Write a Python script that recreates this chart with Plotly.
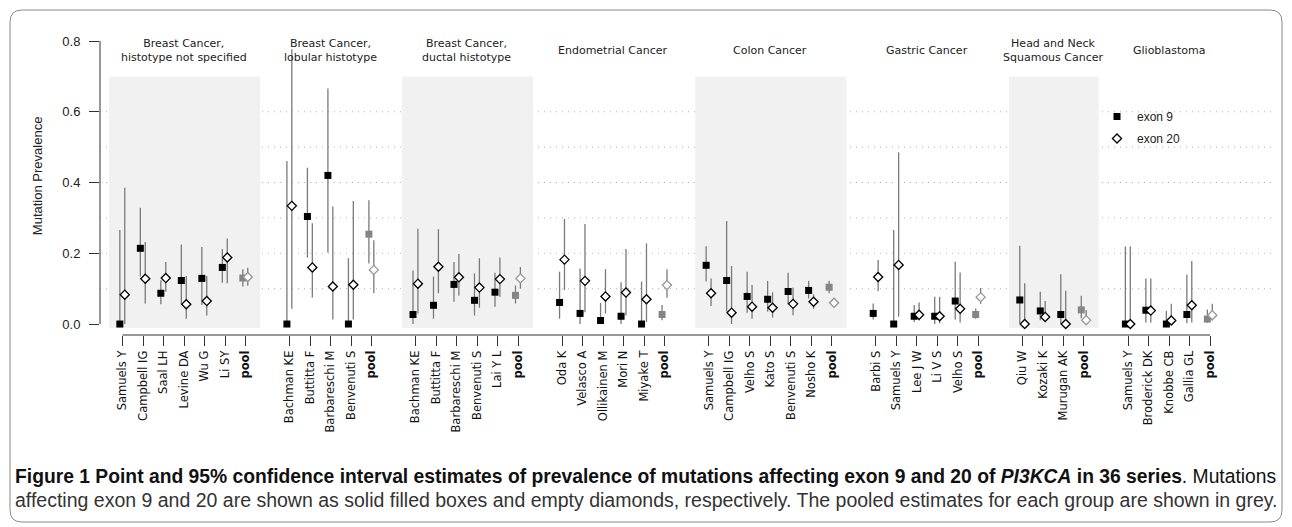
import plotly.graph_objects as go

# ---------------- data ----------------
group_titles = ["Breast Cancer,<br>histotype not specified", "Breast Cancer,<br>lobular histotype",
                "Breast Cancer,<br>ductal histotype", "Endometrial Cancer", "Colon Cancer",
                "Gastric Cancer", "Head and Neck<br>Squamous Cancer", "Glioblastoma"]
group_sizes = [7, 5, 6, 6, 7, 6, 4, 5]
shaded_groups = [0, 2, 4, 6]

labels = ["Samuels Y", "Campbell IG", "Saal LH", "Levine DA", "Wu G", "Li SY", "pool",
          "Bachman KE", "Buttitta F", "Barbareschi M", "Benvenuti S", "pool",
          "Bachman KE", "Buttitta F", "Barbareschi M", "Benvenuti S", "Lai Y L", "pool",
          "Oda K", "Velasco A", "Ollikainen M", "Mori N", "Miyake T", "pool",
          "Samuels Y", "Campbell IG", "Velho S", "Kato S", "Benvenuti S", "Nosho K", "pool",
          "Barbi S", "Samuels Y", "Lee J W", "Li V S", "Velho S", "pool",
          "Qiu W", "Kozaki K", "Murugan AK", "pool",
          "Samuels Y", "Broderick DK", "Knobbe CB", "Gallia GL", "pool"]

e9 = [0.0, 0.214, 0.087, 0.123, 0.129, 0.160, 0.130,
      0.0, 0.304, 0.420, 0.0, 0.254,
      0.027, 0.053, 0.112, 0.067, 0.090, 0.081,
      0.061, 0.030, 0.010, 0.022, 0.0, 0.027,
      0.166, 0.123, 0.078, 0.070, 0.092, 0.095, 0.104,
      0.030, 0.0, 0.022, 0.022, 0.065, 0.027,
      0.068, 0.037, 0.027, 0.040,
      0.0, 0.039, 0.0, 0.027, 0.014]
e9_lo = [0.0, 0.134, 0.056, 0.056, 0.054, 0.117, 0.106,
         0.0, 0.188, 0.202, 0.0, 0.171,
         0.0, 0.015, 0.063, 0.024, 0.049, 0.058,
         0.015, 0.0, 0.0, 0.0, 0.0, 0.011,
         0.120, 0.035, 0.032, 0.035, 0.056, 0.072, 0.087,
         0.013, 0.0, 0.006, 0.0, 0.013, 0.015,
         0.002, 0.011, 0.0, 0.016,
         0.0, 0.004, 0.0, 0.002, 0.004]
e9_hi = [0.266, 0.329, 0.124, 0.225, 0.218, 0.212, 0.155,
         0.461, 0.442, 0.666, 0.186, 0.350,
         0.151, 0.134, 0.175, 0.143, 0.145, 0.109,
         0.148, 0.157, 0.060, 0.118, 0.120, 0.054,
         0.220, 0.291, 0.148, 0.122, 0.145, 0.122, 0.122,
         0.058, 0.266, 0.054, 0.077, 0.176, 0.044,
         0.221, 0.091, 0.141, 0.080,
         0.219, 0.129, 0.037, 0.139, 0.041]

e20 = [0.083, 0.128, 0.130, 0.056, 0.065, 0.188, 0.133,
       0.334, 0.160, 0.106, 0.111, 0.153,
       0.114, 0.162, 0.132, 0.103, 0.127, 0.129,
       0.182, 0.122, 0.078, 0.089, 0.070, 0.110,
       0.087, 0.032, 0.049, 0.046, 0.057, 0.063, 0.060,
       0.133, 0.167, 0.026, 0.022, 0.043, 0.076,
       0.0, 0.020, 0.0, 0.011,
       0.0, 0.038, 0.010, 0.053, 0.025]
e20_lo = [0.0, 0.058, 0.091, 0.015, 0.024, 0.115, 0.108,
          0.043, 0.075, 0.013, 0.013, 0.087,
          0.030, 0.087, 0.080, 0.046, 0.077, 0.100,
          0.096, 0.033, 0.030, 0.024, 0.006, 0.074,
          0.051, 0.0, 0.015, 0.018, 0.025, 0.043, 0.049,
          0.093, 0.021, 0.010, 0.002, 0.004, 0.057,
          0.0, 0.010, 0.0, 0.003,
          0.0, 0.004, 0.002, 0.004, 0.010]
e20_hi = [0.385, 0.232, 0.175, 0.136, 0.136, 0.242, 0.159,
          0.777, 0.285, 0.332, 0.348, 0.237,
          0.269, 0.268, 0.198, 0.186, 0.188, 0.161,
          0.297, 0.283, 0.155, 0.212, 0.228, 0.155,
          0.129, 0.164, 0.110, 0.090, 0.103, 0.084, 0.073,
          0.181, 0.485, 0.061, 0.077, 0.146, 0.102,
          0.115, 0.065, 0.094, 0.040,
          0.219, 0.129, 0.057, 0.178, 0.057]

y_tick_vals = [0.0, 0.2, 0.4, 0.6, 0.8]
y_tick_text = ["0.0", "0.2", "0.4", "0.6", "0.8"]
grid_vals = [0.1, 0.2, 0.3, 0.4, 0.5, 0.6]

caption1 = ("<b>Figure 1 Point and 95% confidence interval estimates of prevalence of mutations "
            "affecting exon 9 and 20 of <i>PI3KCA</i> in 36 series</b>. Mutations")
caption2 = ("affecting exon 9 and 20 are shown as solid filled boxes and empty diamonds, respectively. "
            "The pooled estimates for each group are shown in grey.")

# ---------------- layout helpers ----------------
PAGE = 8                      # default body margin of the html page
W, H = 1292 - PAGE, 527 - PAGE
ML, MR, MT, MB = 92, 20, 33, 192
PW, PH = W - ML - MR, H - MT - MB
GAP = 2.15
OFF9, OFF20 = -0.13, 0.11


def px2x(px):                 # window pixel -> paper x
    return (px - PAGE - ML) / PW


def py2y(py):                 # window pixel -> paper y
    return (H - MB - (py - PAGE)) / PH


pos, group_idx, start = [], [], 0.0
for g, n in enumerate(group_sizes):
    for k in range(n):
        pos.append(start + k)
        group_idx.append(g)
    start = start + n - 1 + GAP

is_pool = [lab == "pool" for lab in labels]
ticktext = ["<b>pool</b>" if p else lab for lab, p in zip(labels, is_pool)]


def subset(vals, pool):
    return [v for v, p in zip(vals, is_pool) if p == pool]


fig = go.Figure()

ERR = "#7a7a7a"
for pool in (False, True):
    xs9 = [x + OFF9 for x, p in zip(pos, is_pool) if p == pool]
    xs20 = [x + OFF20 for x, p in zip(pos, is_pool) if p == pool]
    v9, l9, h9 = subset(e9, pool), subset(e9_lo, pool), subset(e9_hi, pool)
    v20, l20, h20 = subset(e20, pool), subset(e20_lo, pool), subset(e20_hi, pool)
    fig.add_trace(go.Scatter(
        x=xs9, y=v9, mode="markers", name="exon 9", showlegend=not pool, legendgroup="e9",
        marker=dict(symbol="square", size=7, color="#858585" if pool else "black",
                    line=dict(width=0)),
        error_y=dict(type="data", symmetric=False,
                     array=[h - v for h, v in zip(h9, v9)],
                     arrayminus=[v - l for v, l in zip(v9, l9)],
                     color=ERR, thickness=1.3, width=0)))
    fig.add_trace(go.Scatter(
        x=xs20, y=v20, mode="markers", name="exon 20", showlegend=not pool, legendgroup="e20",
        marker=dict(symbol="diamond", size=7, color="white",
                    line=dict(width=1.3, color="#959595" if pool else "black")),
        error_y=dict(type="data", symmetric=False,
                     array=[h - v for h, v in zip(h20, v20)],
                     arrayminus=[v - l for v, l in zip(v20, l20)],
                     color=ERR, thickness=1.3, width=0)))

shapes = []
for g in shaded_groups:
    gx = [x for x, gi in zip(pos, group_idx) if gi == g]
    shapes.append(dict(type="rect", xref="x", yref="y", x0=gx[0] - 0.66, x1=gx[-1] + 0.72,
                       y0=-0.011, y1=0.70, fillcolor="#f1f1f1", line=dict(width=0),
                       layer="below"))
for v in grid_vals:
    shapes.append(dict(type="line", xref="paper", yref="y", x0=0, x1=1, y0=v, y1=v,
                       line=dict(color="#b5b5b5", width=1, dash="1px,5px"), layer="below"))
shapes.append(dict(type="line", xref="paper", yref="y", x0=0, x1=0, y0=0, y1=0.8,
                   line=dict(color="#333", width=1)))
shapes.append(dict(type="line", xref="x", yref="paper", x0=pos[0], x1=pos[-1], y0=0, y1=0,
                   line=dict(color="#333", width=1)))
bx0, bx1, by0, by1, r = 10, 1282, 10, 522, 12
rx, ry = r / PW, r / PH
X0, X1, Y0, Y1 = px2x(bx0), px2x(bx1), py2y(by0), py2y(by1)
path = (f"M {X0+rx} {Y0} L {X1-rx} {Y0} Q {X1} {Y0} {X1} {Y0-ry} "
        f"L {X1} {Y1+ry} Q {X1} {Y1} {X1-rx} {Y1} L {X0+rx} {Y1} Q {X0} {Y1} {X0} {Y1+ry} "
        f"L {X0} {Y0-ry} Q {X0} {Y0} {X0+rx} {Y0} Z")
shapes.append(dict(type="path", xref="paper", yref="paper", path=path,
                   line=dict(color="#8a8a8a", width=1), fillcolor="rgba(0,0,0,0)"))

annotations = []
for g, title in enumerate(group_titles):
    gx = [x for x, gi in zip(pos, group_idx) if gi == g]
    annotations.append(dict(x=(gx[0] + gx[-1]) / 2, y=0.772, xref="x", yref="y", text=title,
                            showarrow=False, xanchor="center", yanchor="middle",
                            font=dict(family="DejaVu Sans", size=11, color="#222")))
annotations.append(dict(x=px2x(37), y=0.418, xref="paper", yref="y", text="Mutation Prevalence",
                        textangle=-90, showarrow=False, xanchor="center", yanchor="middle",
                        font=dict(family="Liberation Sans", size=13, color="#222")))
annotations.append(dict(x=px2x(13), y=py2y(476), xref="paper", yref="paper", text=caption1,
                        showarrow=False, xanchor="left", yanchor="middle",
                        font=dict(family="Liberation Sans", size=19.3, color="#111")))
annotations.append(dict(x=px2x(13), y=py2y(500), xref="paper", yref="paper", text=caption2,
                        showarrow=False, xanchor="left", yanchor="middle",
                        font=dict(family="Liberation Sans", size=19.5, color="#333")))

fig.update_layout(
    width=W, height=H, margin=dict(l=ML, r=MR, t=MT, b=MB),
    paper_bgcolor="white", plot_bgcolor="white",
    shapes=shapes, annotations=annotations,
    showlegend=True,
    legend=dict(x=px2x(1097), y=py2y(102), xanchor="left", yanchor="top", tracegroupgap=3,
                bgcolor="rgba(0,0,0,0)", font=dict(family="Liberation Sans", size=12, color="#222")),
    xaxis=dict(range=[(100 - 122.5) / 20.5, (1272 - 122.5) / 20.5],
               tickmode="array", tickvals=pos, ticktext=ticktext, tickangle=-90,
               ticks="outside", ticklen=10, tickcolor="#333", showgrid=False, zeroline=False,
               showline=False, tickfont=dict(family="DejaVu Sans", size=11.5, color="#111")),
    yaxis=dict(range=[-0.031, 0.8], tickmode="array", tickvals=y_tick_vals, ticktext=y_tick_text,
               ticks="outside", ticklen=10, tickcolor="#333", showgrid=False, zeroline=False,
               showline=False, ticklabelstandoff=6,
               tickfont=dict(family="Liberation Sans", size=13, color="#222")),
)

fig.write_html("out.html")
